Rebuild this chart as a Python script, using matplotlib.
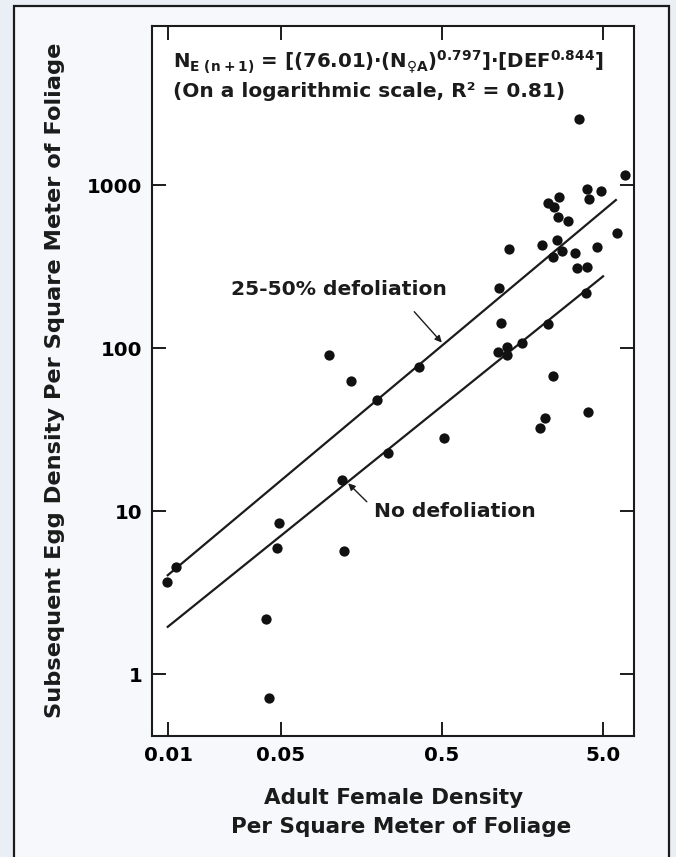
# Egg density vs adult female density (log-log), two fitted lines

import numpy as np
import matplotlib
matplotlib.use("Agg")
import matplotlib.pyplot as plt
from matplotlib.patches import Rectangle

# data
adult_density = [0.0098, 0.0112, 0.0404, 0.0424, 0.0489, 0.0473, 0.0991, 0.136,
                 0.124, 0.1205, 0.197, 0.361, 0.232, 0.515,
                 3.54, 6.9, 3.97, 4.89, 4.12, 2.67, 2.29, 2.49, 2.65, 3.05,
                 6.15, 1.306, 2.09, 2.58, 2.77, 2.44, 3.36, 4.58, 3.44, 4.0,
                 1.13, 1.165, 2.28, 3.93, 1.567, 1.12, 1.264, 1.264, 2.44,
                 2.19, 2.04, 4.07]
egg_density = [3.68, 4.51, 2.18, 0.716, 8.4, 5.9, 91, 63,
               5.68, 15.6, 48, 76.8, 22.6, 27.9,
               2540, 1146, 941, 923, 817, 848, 772, 736, 634, 604,
               505, 403, 428, 460, 395, 363, 381, 418, 308, 315,
               232, 143, 140, 218, 108, 95, 102, 90.6, 67.3,
               37, 32.2, 40.3]

# fitted lines (end points)
upper_line_x = [0.0098, 6.1]
upper_line_y = [4.0, 817]
lower_line_x = [0.0098, 5.08]
lower_line_y = [1.93, 278]

x_ticks = [0.01, 0.05, 0.5, 5.0]
x_tick_labels = ["0.01", "0.05", "0.5", "5.0"]
y_ticks = [1, 10, 100, 1000]
y_tick_labels = ["1", "10", "100", "1000"]

plt.rcParams['font.family'] = 'DejaVu Sans'
plt.rcParams['font.weight'] = 'bold'
plt.rcParams['mathtext.fontset'] = 'custom'
plt.rcParams['mathtext.rm'] = 'DejaVu Sans:bold'
plt.rcParams['mathtext.it'] = 'DejaVu Sans:bold'
plt.rcParams['mathtext.bf'] = 'DejaVu Sans:bold'
plt.rcParams['mathtext.default'] = 'bf'
plt.rcParams['mathtext.fallback'] = 'stix'

INK = '#1b1b1b'
W, H = 676, 857
fig = plt.figure(figsize=(W/100, H/100), dpi=100, facecolor='#eaeff5')

# outer frame of the figure panel
fig.patches.append(Rectangle((14/W, -0.02), (669-14)/W, (H-6)/H + 0.02,
                             transform=fig.transFigure, facecolor='#f6f8fb',
                             edgecolor=INK, linewidth=1.6, zorder=-5))

ax = fig.add_axes([152/W, (H-736)/H, (634-152)/W, (736-26)/H])
ax.set_facecolor('white')
ax.set_xscale('log'); ax.set_yscale('log')
ax.set_xlim(0.00792, 7.81)
ax.set_ylim(0.417, 9450)

ax.plot(upper_line_x, upper_line_y, color=INK, lw=1.6, solid_capstyle='butt')
ax.plot(lower_line_x, lower_line_y, color=INK, lw=1.6, solid_capstyle='butt')
ax.plot(adult_density, egg_density, 'o', color='#111111', ms=7.4, mec='none', zorder=3)

ax.set_xticks(x_ticks)
ax.set_xticklabels(x_tick_labels)
ax.set_yticks(y_ticks)
ax.set_yticklabels(y_tick_labels)
ax.minorticks_off()
ax.tick_params(which='major', direction='in', length=10, width=1.4, color=INK,
               top=True, right=True, labelsize=14.3, pad=7)
for s in ax.spines.values():
    s.set_linewidth(1.5); s.set_color(INK)

# labels on the lines
ax.text(0.0245, 227, "25-50% defoliation", fontsize=14.6, fontweight='bold',
        ha='left', va='center', color=INK)
ax.annotate("", xy=(0.50, 108), xytext=(0.337, 167),
            arrowprops=dict(arrowstyle='-|>', color=INK, lw=1.0,
                            mutation_scale=10, shrinkA=0, shrinkB=0))
ax.text(0.1895, 9.9, "No defoliation", fontsize=14.6, fontweight='bold',
        ha='left', va='center', color=INK)
ax.annotate("", xy=(0.131, 14.8), xytext=(0.171, 11.4),
            arrowprops=dict(arrowstyle='-|>', color=INK, lw=1.0,
                            mutation_scale=10, shrinkA=0, shrinkB=0))

# equation
fig.text(172.7/W, (H-68.3)/H,
         "N$_{E\\ (n+1)}$ = [(76.01)\u00b7(N$_{\u2640A}$)$^{0.797}$]\u00b7[DEF$^{0.844}$]",
         fontsize=14.2, fontweight='bold', ha='left', va='baseline', color=INK)
fig.text(172.7/W, (H-96.7)/H, "(On a logarithmic scale, R\u00b2 = 0.81)",
         fontsize=14.5, fontweight='bold', ha='left', va='baseline', color=INK)

# axis titles
fig.text(55/W, (H-380.5)/H, "Subsequent Egg Density Per Square Meter of Foliage",
         rotation=90, fontsize=16.2, fontweight='bold', ha='center', va='center', color=INK)
fig.text(394/W, (H-798)/H, "Adult Female Density", fontsize=15.5,
         fontweight='bold', ha='center', va='center', color=INK)
fig.text(401/W, (H-827)/H, "Per Square Meter of Foliage", fontsize=15.5,
         fontweight='bold', ha='center', va='center', color=INK)

fig.savefig("out.png", dpi=100, facecolor=fig.get_facecolor())
